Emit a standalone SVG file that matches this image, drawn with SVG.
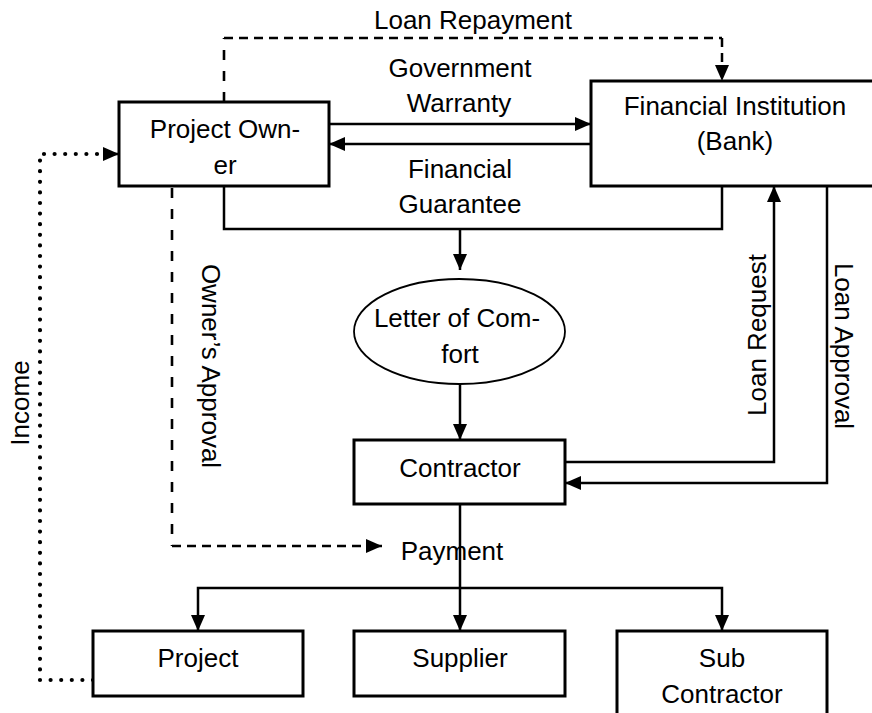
<svg xmlns="http://www.w3.org/2000/svg" width="872" height="713" viewBox="0 0 872 713">
<defs>
<marker id="ah" viewBox="0 0 16 14" refX="16" refY="7" markerWidth="16" markerHeight="14" orient="auto" markerUnits="userSpaceOnUse"><path d="M0,0 L16,7 L0,14 z" fill="#000"/></marker>
</defs>
<style>
.box{fill:#fff;stroke:#000;stroke-width:3}
.ell{fill:#fff;stroke:#000;stroke-width:1.8}
.ln{fill:none;stroke:#000;stroke-width:2.5}
.dash{fill:none;stroke:#000;stroke-width:2.6;stroke-dasharray:9 6}
.dashv{fill:none;stroke:#000;stroke-width:2.6;stroke-dasharray:10 11}
.dot{fill:none;stroke:#000;stroke-width:4.2;stroke-linecap:round;stroke-dasharray:0 10.6}
.arr{marker-end:url(#ah)}
text{font-family:"Liberation Sans",Arial,sans-serif;font-size:26px;fill:#000;text-anchor:middle}
</style>
<rect width="872" height="713" fill="#fff"/>
<g id="connectors">
<path class="dashv" d="M224,102 V38"/>
<path class="dash" d="M224,38 H722"/>
<path class="ln arr" d="M722,38 V81" style="stroke-dasharray:9 6"/>
<path class="ln arr" d="M329,124 H591"/>
<path class="ln arr" d="M591,144 H329"/>
<path class="ln" d="M224,186 V229 H722 V186"/>
<path class="ln arr" d="M460,229 V270"/>
<path class="ln arr" d="M460,384 V440"/>
<path class="ln arr" d="M565,462 H774 V186"/>
<path class="ln arr" d="M827,186 V483 H565"/>
<path class="dashv" d="M172,188 V546"/>
<path class="dash" d="M172,546 H366"/>
<path class="ln arr" d="M366,546 H382"/>
<path class="dot" d="M93,680 H40 V154 H103"/>
<path class="ln arr" d="M103,154 H119"/>
<path class="ln arr" d="M460,504 V631"/>
<path class="ln arr" d="M460,588 H198 V631"/>
<path class="ln arr" d="M460,588 H722 V631"/>
<text x="473" y="29">Loan Repayment</text>
<text x="460" y="77">Government</text>
<text x="459" y="112">Warranty</text>
<text x="460" y="178">Financial</text>
<text x="460" y="213">Guarantee</text>
<text transform="translate(202,366) rotate(90)">Owner’s Approval</text>
<text transform="translate(29,403) rotate(-90)">Income</text>
<text transform="translate(766,335) rotate(-90)">Loan Request</text>
<text transform="translate(835,346) rotate(90)">Loan Approval</text>
<text x="452" y="560">Payment</text>
</g>
<g id="project-owner"><rect class="box" x="119" y="102" width="210" height="84"/><text x="225" y="138">Project Own-</text><text x="225" y="174">er</text></g>
<g id="financial-institution"><rect class="box" x="591" y="81" width="300" height="105"/><text x="735" y="115">Financial Institution</text><text x="735" y="150">(Bank)</text></g>
<g id="letter-of-comfort"><ellipse class="ell" cx="459.5" cy="331.5" rx="105.5" ry="52.5"/><text x="457" y="327">Letter of Com-</text><text x="460" y="363">fort</text></g>
<g id="contractor"><rect class="box" x="354" y="440" width="211" height="64"/><text x="460" y="477">Contractor</text></g>
<g id="project"><rect class="box" x="93" y="631" width="210" height="65"/><text x="198" y="667">Project</text></g>
<g id="supplier"><rect class="box" x="354" y="631" width="211" height="65"/><text x="460" y="667">Supplier</text></g>
<g id="sub-contractor"><rect class="box" x="617" y="631" width="210" height="100"/><text x="722" y="667">Sub</text><text x="722" y="703">Contractor</text></g>
</svg>
